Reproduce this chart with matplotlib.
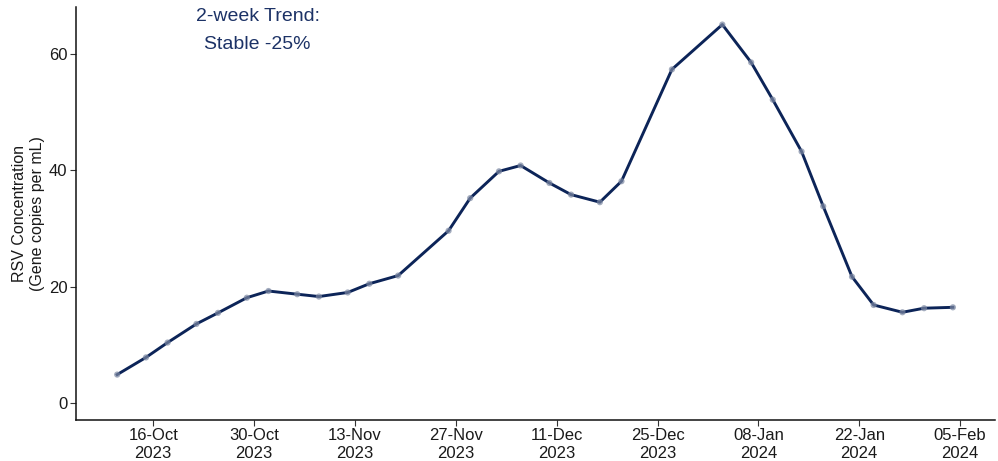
import matplotlib
matplotlib.use("Agg")
import matplotlib.pyplot as plt
import matplotlib.dates as mdates
import pandas as pd

plt.rcParams['font.family'] = ['Liberation Sans', 'DejaVu Sans']

# sample dates (twice weekly) and RSV concentration
dates = pd.to_datetime([
    "2023-10-11", "2023-10-15", "2023-10-18", "2023-10-22", "2023-10-25",
    "2023-10-29", "2023-11-01", "2023-11-05", "2023-11-08", "2023-11-12",
    "2023-11-15", "2023-11-19", "2023-11-26", "2023-11-29", "2023-12-03",
    "2023-12-06", "2023-12-10", "2023-12-13", "2023-12-17", "2023-12-20",
    "2023-12-27", "2024-01-03", "2024-01-07", "2024-01-10", "2024-01-14",
    "2024-01-17", "2024-01-21", "2024-01-24", "2024-01-28", "2024-01-31",
    "2024-02-04",
])
conc = [4.9, 7.85, 10.4, 13.6, 15.5,
        18.1, 19.25, 18.7, 18.3, 19.0,
        20.5, 21.9, 29.6, 35.2, 39.8,
        40.8, 37.8, 35.8, 34.5, 38.1,
        57.3, 65.0, 58.5, 52.1, 43.2,
        33.8, 21.7, 16.85, 15.6, 16.3,
        16.45]

tick_dates = pd.date_range("2023-10-16", "2024-02-05", freq="14D")
yticks = [0, 20, 40, 60]
trend_text = "2-week Trend:\nStable -25%"

navy = "#0c2458"

fig = plt.figure(figsize=(9.98, 4.61), dpi=100)
ax = fig.add_axes([0.0759, 0.0889, 0.921, 0.897])

ax.plot(dates, conc, color=navy, lw=2.1, zorder=2)
ax.scatter(dates, conc, s=20, color="#7d89a3", alpha=0.7, edgecolors="none", zorder=3)

ax.set_xlim(pd.Timestamp("2023-10-05 06:00"), pd.Timestamp("2024-02-09 20:00"))
ax.set_ylim(-2.9, 68.1)

ax.set_xticks(tick_dates)
ax.xaxis.set_major_formatter(mdates.DateFormatter("%d-%b\n%Y"))
ax.set_yticks(yticks)
ax.tick_params(axis="both", labelsize=12, length=4, width=0.8, color="#333333",
               labelcolor="#1a1a1a", pad=2)
for lbl in ax.get_xticklabels():
    lbl.set_linespacing(1.2)

for side in ["top", "right"]:
    ax.spines[side].set_visible(False)
for side in ["left", "bottom"]:
    ax.spines[side].set_linewidth(1.1)
    ax.spines[side].set_color("#111111")

ax.set_ylabel("RSV Concentration\n(Gene copies per mL)", fontsize=11.5,
              color="#1a1a1a", linespacing=1.2, labelpad=3)

ax.text(pd.Timestamp("2023-10-30 12:00"), 67.8, trend_text, ha="center", va="top",
        fontsize=14, color="#1c3266", linespacing=1.8)

fig.savefig("out.png", dpi=100)
